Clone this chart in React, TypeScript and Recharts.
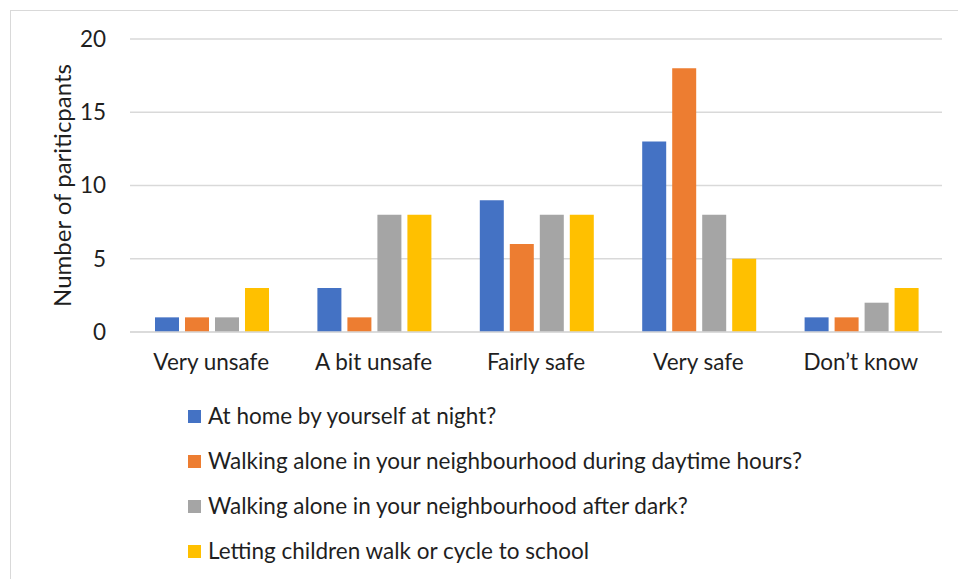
import { Bar, BarChart, CartesianGrid, Legend, XAxis, YAxis } from "recharts";

const categories = ["Very unsafe", "A bit unsafe", "Fairly safe", "Very safe", "Don\u2019t know"];
const atHomeNight = [1, 3, 9, 13, 1];
const walkingDaytime = [1, 1, 6, 18, 1];
const walkingAfterDark = [1, 8, 8, 8, 2];
const childrenToSchool = [3, 8, 8, 5, 3];
const yTicks = [0, 5, 10, 15, 20];

const series = [
  { key: "home", name: "At home by yourself at night?", values: atHomeNight, color: "#4472C4" },
  { key: "day", name: "Walking alone in your neighbourhood during daytime hours?", values: walkingDaytime, color: "#ED7D31" },
  { key: "dark", name: "Walking alone in your neighbourhood after dark?", values: walkingAfterDark, color: "#A5A5A5" },
  { key: "school", name: "Letting children walk or cycle to school", values: childrenToSchool, color: "#FFC000" }
];

const data = categories.map((label, i) => {
  const row: Record<string, string | number> = { label };
  series.forEach((s) => {
    row[s.key] = s.values[i];
  });
  return row;
});

const FONT = "Lato, 'Open Sans', sans-serif";
const TEXT = "#1f1f1f";
const GRID = "#D9D9D9";

// legend rows keep the series order
const LegendList = () => (
  <div style={{ height: 199, paddingTop: 14, paddingLeft: 188, boxSizing: "border-box", fontFamily: FONT }}>
    {series.map((s) => (
      <div key={s.key} style={{ height: 45, display: "flex", alignItems: "center" }}>
        <span style={{ width: 13, height: 13, background: s.color, marginRight: 7, display: "inline-block" }} />
        <span style={{ fontSize: 22.5, color: TEXT, lineHeight: 1 }}>{s.name}</span>
      </div>
    ))}
  </div>
);

export default function App() {
  return (
    <div style={{ position: "absolute", left: 0, top: 0, width: 958, height: 579, background: "#fff" }}>
      <div
        style={{
          position: "absolute",
          left: 10,
          top: 10,
          right: 0,
          bottom: 0,
          borderTop: `1px solid ${GRID}`,
          borderLeft: `1px solid ${GRID}`
        }}
      />
      <BarChart
        width={958}
        height={579}
        data={data}
        margin={{ top: 39, right: 16, left: 0, bottom: 0 }}
        barCategoryGap={25}
        barGap={6}
        style={{ fontFamily: FONT }}
      >
        <CartesianGrid vertical={false} stroke={GRID} strokeWidth={1.5} />
        <XAxis
          dataKey="label"
          height={48}
          tickLine={false}
          tickSize={0}
          tickMargin={22}
          axisLine={{ stroke: GRID, strokeWidth: 1.5 }}
          tick={{ fontSize: 22.5, fill: TEXT }}
          interval={0}
        />
        <YAxis
          width={130}
          domain={[0, 20]}
          ticks={yTicks}
          tickLine={false}
          axisLine={false}
          tickSize={0}
          tickMargin={24}
          tick={{ fontSize: 22.5, fill: TEXT }}
          label={{ value: "Number of pariticpants", angle: -90, position: "center", dx: -3, fontSize: 24, fill: TEXT }}
        />
        <Legend verticalAlign="bottom" wrapperStyle={{ left: 0, width: 958 }} content={<LegendList />} />
        {series.map((s) => (
          <Bar key={s.key} dataKey={s.key} name={s.name} fill={s.color} isAnimationActive={false} />
        ))}
      </BarChart>
    </div>
  );
}
